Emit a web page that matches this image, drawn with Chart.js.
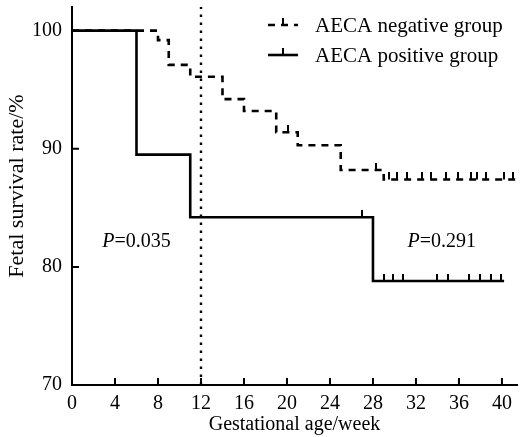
<!DOCTYPE html>
<html>
<head>
<meta charset="utf-8">
<script src="https://cdn.jsdelivr.net/npm/chart.js@4.4.0/dist/chart.umd.min.js"></script>
<style>
html, body { margin: 0; padding: 0; background: #fff; }
#wrap { width: 522px; height: 437px; }
</style>
</head>
<body>
<div id="wrap"><canvas id="chart"></canvas></div>
<script>
// Kaplan-Meier steps (week, survival %)
const negWeeks = [0, 8, 9, 11, 14, 16, 19, 21, 25, 29, 41.4];
const negRates = [100, 99.2, 97.1, 96.1, 94.2, 93.2, 91.4, 90.3, 88.2, 87.4, 87.4];
const negCensorWeeks = [20.1, 28.3, 29.5, 30.2, 31.2, 32.6, 33.4, 34.8, 35.9, 37.1, 37.7, 38.5, 40.2, 41];
const negCensorRates = [91.4, 88.2, 87.4, 87.4, 87.4, 87.4, 87.4, 87.4, 87.4, 87.4, 87.4, 87.4, 87.4, 87.4];

const posWeeks = [0, 6, 11, 28, 40.2];
const posRates = [100, 89.5, 84.2, 78.8, 78.8];
const posCensorWeeks = [27, 29, 29.9, 30.8, 34, 35, 36.9, 38, 39, 39.9];
const posCensorRates = [84.2, 78.8, 78.8, 78.8, 78.8, 78.8, 78.8, 78.8, 78.8, 78.8];

const xTicks = [0, 4, 8, 12, 16, 20, 24, 28, 32, 36, 40];
const yTicks = [70, 80, 90, 100];
const cutoffWeek = 12;
const groupNames = ["AECA negative group", "AECA positive group"];
const pValues = ["0.035", "0.291"];

const FONT = '"Liberation Serif", "Times New Roman", serif';

function pts(xs, ys) {
    return xs.map((v, i) => ({ x: v, y: ys[i] }));
}

// small upward tick used for censored cases
function censorMark() {
    const c = document.createElement("canvas");
    c.width = 2;
    c.height = 14;
    const g = c.getContext("2d");
    g.fillStyle = "#000";
    g.fillRect(0, 0, 2, 7);
    return c;
}
const mark = censorMark();

const decor = {
    id: "decor",
    afterDraw(chart) {
        const ctx = chart.ctx;
        const x = chart.scales.x;
        const y = chart.scales.y;
        ctx.save();
        ctx.strokeStyle = "#000";
        ctx.fillStyle = "#000";
        ctx.lineWidth = 2;

        // inward tick marks
        ctx.beginPath();
        xTicks.forEach((v) => {
            const px = x.getPixelForValue(v);
            ctx.moveTo(px, y.bottom);
            ctx.lineTo(px, y.bottom - 7);
        });
        yTicks.forEach((v) => {
            const py = y.getPixelForValue(v);
            ctx.moveTo(x.left, py);
            ctx.lineTo(x.left + 7, py);
        });
        ctx.stroke();

        // y axis title
        ctx.save();
        ctx.translate(17, 186);
        ctx.rotate(-Math.PI / 2);
        ctx.font = "22px " + FONT;
        ctx.textAlign = "center";
        ctx.textBaseline = "middle";
        ctx.fillText("Fetal survival rate/%", 0, 0);
        ctx.restore();

        // legend
        const rows = [25, 55];
        const dashes = [[7, 6], []];
        rows.forEach((ry, i) => {
            ctx.save();
            ctx.lineWidth = 2.6;
            ctx.setLineDash(dashes[i]);
            ctx.beginPath();
            ctx.moveTo(268, ry);
            ctx.lineTo(298, ry);
            ctx.stroke();
            ctx.restore();
            ctx.fillRect(282, ry - 7, 2, 7);
            ctx.font = "21px " + FONT;
            ctx.textAlign = "left";
            ctx.textBaseline = "middle";
            ctx.fillText(groupNames[i], 315, ry + 1);
        });

        // P values
        const pWeeks = [6, 34.4];
        pValues.forEach((p, i) => {
            const cx = x.getPixelForValue(pWeeks[i]);
            const cy = y.getPixelForValue(82.1);
            ctx.font = "italic 20px " + FONT;
            const w1 = ctx.measureText("P").width;
            ctx.font = "20px " + FONT;
            const rest = "=" + p;
            const w2 = ctx.measureText(rest).width;
            const sx = cx - (w1 + w2) / 2;
            ctx.textAlign = "left";
            ctx.textBaseline = "middle";
            ctx.font = "italic 20px " + FONT;
            ctx.fillText("P", sx, cy);
            ctx.font = "20px " + FONT;
            ctx.fillText(rest, sx + w1, cy);
        });
        ctx.restore();
    }
};

new Chart(document.getElementById("chart"), {
    type: "line",
    data: {
        datasets: [{
            label: groupNames[0],
            data: pts(negWeeks, negRates),
            borderColor: "#000",
            borderWidth: 2.6,
            borderDash: [7, 6],
            stepped: "before",
            pointRadius: 0,
            fill: false
        }, {
            label: groupNames[1],
            data: pts(posWeeks, posRates),
            borderColor: "#000",
            borderWidth: 2.6,
            stepped: "before",
            pointRadius: 0,
            fill: false
        }, {
            type: "scatter",
            data: pts(negCensorWeeks, negCensorRates),
            pointStyle: mark,
            showLine: false
        }, {
            type: "scatter",
            data: pts(posCensorWeeks, posCensorRates),
            pointStyle: mark,
            showLine: false
        }, {
            data: pts([cutoffWeek, cutoffWeek], [70, 102]),
            borderColor: "#000",
            borderWidth: 2.4,
            borderDash: [2.4, 5.6],
            pointRadius: 0,
            fill: false
        }]
    },
    options: {
        responsive: true,
        maintainAspectRatio: false,
        animation: false,
        layout: { padding: { top: 7, right: 5, left: 0, bottom: 0 } },
        plugins: {
            legend: { display: false },
            tooltip: { enabled: false }
        },
        scales: {
            x: {
                type: "linear",
                min: 0,
                max: 41.4,
                afterBuildTicks: (s) => { s.ticks = xTicks.map((v) => ({ value: v })); },
                afterFit: (s) => { s.height = 52; s.paddingLeft = 0; s.paddingRight = 0; },
                grid: { display: false },
                border: { color: "#000", width: 2 },
                ticks: {
                    color: "#000",
                    padding: 1,
                    maxRotation: 0,
                    autoSkip: false,
                    font: { family: FONT, size: 20, lineHeight: 1 }
                },
                title: {
                    display: true,
                    text: "Gestational age/week",
                    color: "#000",
                    padding: { top: 0, bottom: 0 },
                    font: { family: FONT, size: 20 }
                }
            },
            y: {
                min: 70,
                max: 102,
                afterBuildTicks: (s) => { s.ticks = yTicks.map((v) => ({ value: v })); },
                afterFit: (s) => { s.width = 72; s.paddingTop = 0; s.paddingBottom = 0; },
                grid: { display: false },
                border: { color: "#000", width: 2 },
                ticks: {
                    color: "#000",
                    padding: 2,
                    font: { family: FONT, size: 20 }
                }
            }
        }
    },
    plugins: [decor]
});
</script>
</body>
</html>
